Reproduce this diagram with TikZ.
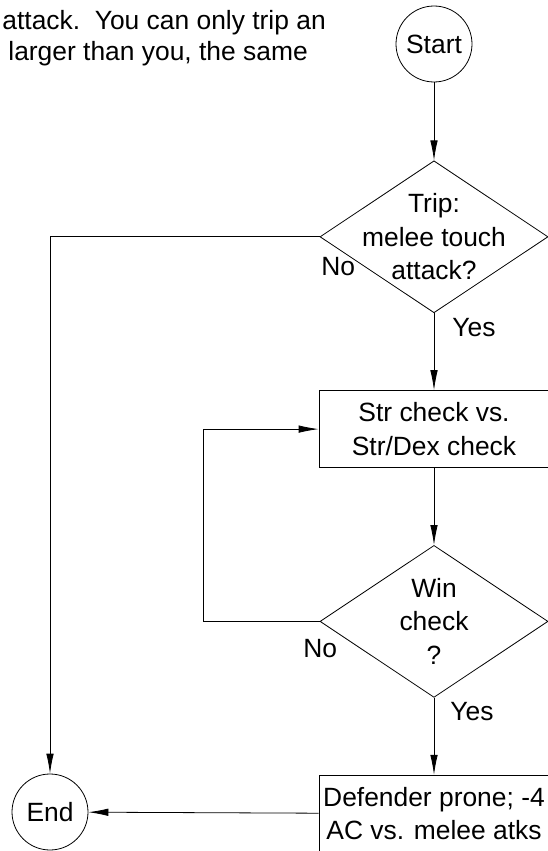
\documentclass[tikz,border=0pt]{standalone}
\usepackage{fontspec}
\setmainfont{Liberation Sans}
\usetikzlibrary{arrows.meta, positioning, shapes.geometric}

\begin{document}
\begin{tikzpicture}[x=1pt, y=-1pt, node distance=77pt, line width=0.8pt,
        font=\fontsize{26.4}{33.5}\selectfont,
        term/.style = {draw, circle, minimum size=76pt, inner sep=0pt},
        decision/.style = {draw, diamond, minimum width=228pt, minimum height=152pt, inner sep=0pt},
        proc/.style = {draw, rectangle, minimum width=230pt, minimum height=77pt, inner sep=0pt, align=center},
        txt/.style = {align=center, inner sep=0pt},
        lbl/.style = {anchor=base west, inner sep=0pt},
        arr/.style = {-{Latex[length=20pt, width=7.5pt]}}]
                \useasboundingbox (0,0) rectangle (548,851);
                \node[lbl] (para1) at (2,30) {attack.\ \ You can only trip an};
                \node[lbl] (para2) at (8,61) {larger than you, the same};
                \node[term] (start) at (434,44) {Start};
                \node[decision] (trip) [below=78pt of start] {};
                \node[txt] (triptxt) at (trip) {Trip:\\melee touch\\attack?};
                \node[proc] (strchk) [below=of trip] {Str check vs.\\Str/Dex check};
                \node[decision] (win) [below=of strchk] {};
                \node[txt] (wintxt) at (win) {Win\\check\\?};
                \node[proc] (prone) [below=of win] {Defender prone; -4\\AC vs. melee atks};
                \node[term] (end) at (50,812) {End};
                \coordinate (loop) at ([xshift=-116pt]win.west);
                \node[lbl] (tripno) at (321,275) {No};
                \node[lbl] (tripyes) at (452,336) {Yes};
                \node[lbl] (winno) at (303,657) {No};
                \node[lbl] (winyes) at (450,720) {Yes};
                \draw[arr] (start) -- (trip);
                \draw[arr] (trip) -- (strchk);
                \draw[arr] (strchk) -- (win);
                \draw[arr] (win) -- (prone);
                \draw[arr] (prone) -- (end);
                \draw[arr] (trip.west) -| (end);
                \draw[arr] (win.west) -- (loop) |- (strchk.west);
            \end{tikzpicture}
\end{document}
